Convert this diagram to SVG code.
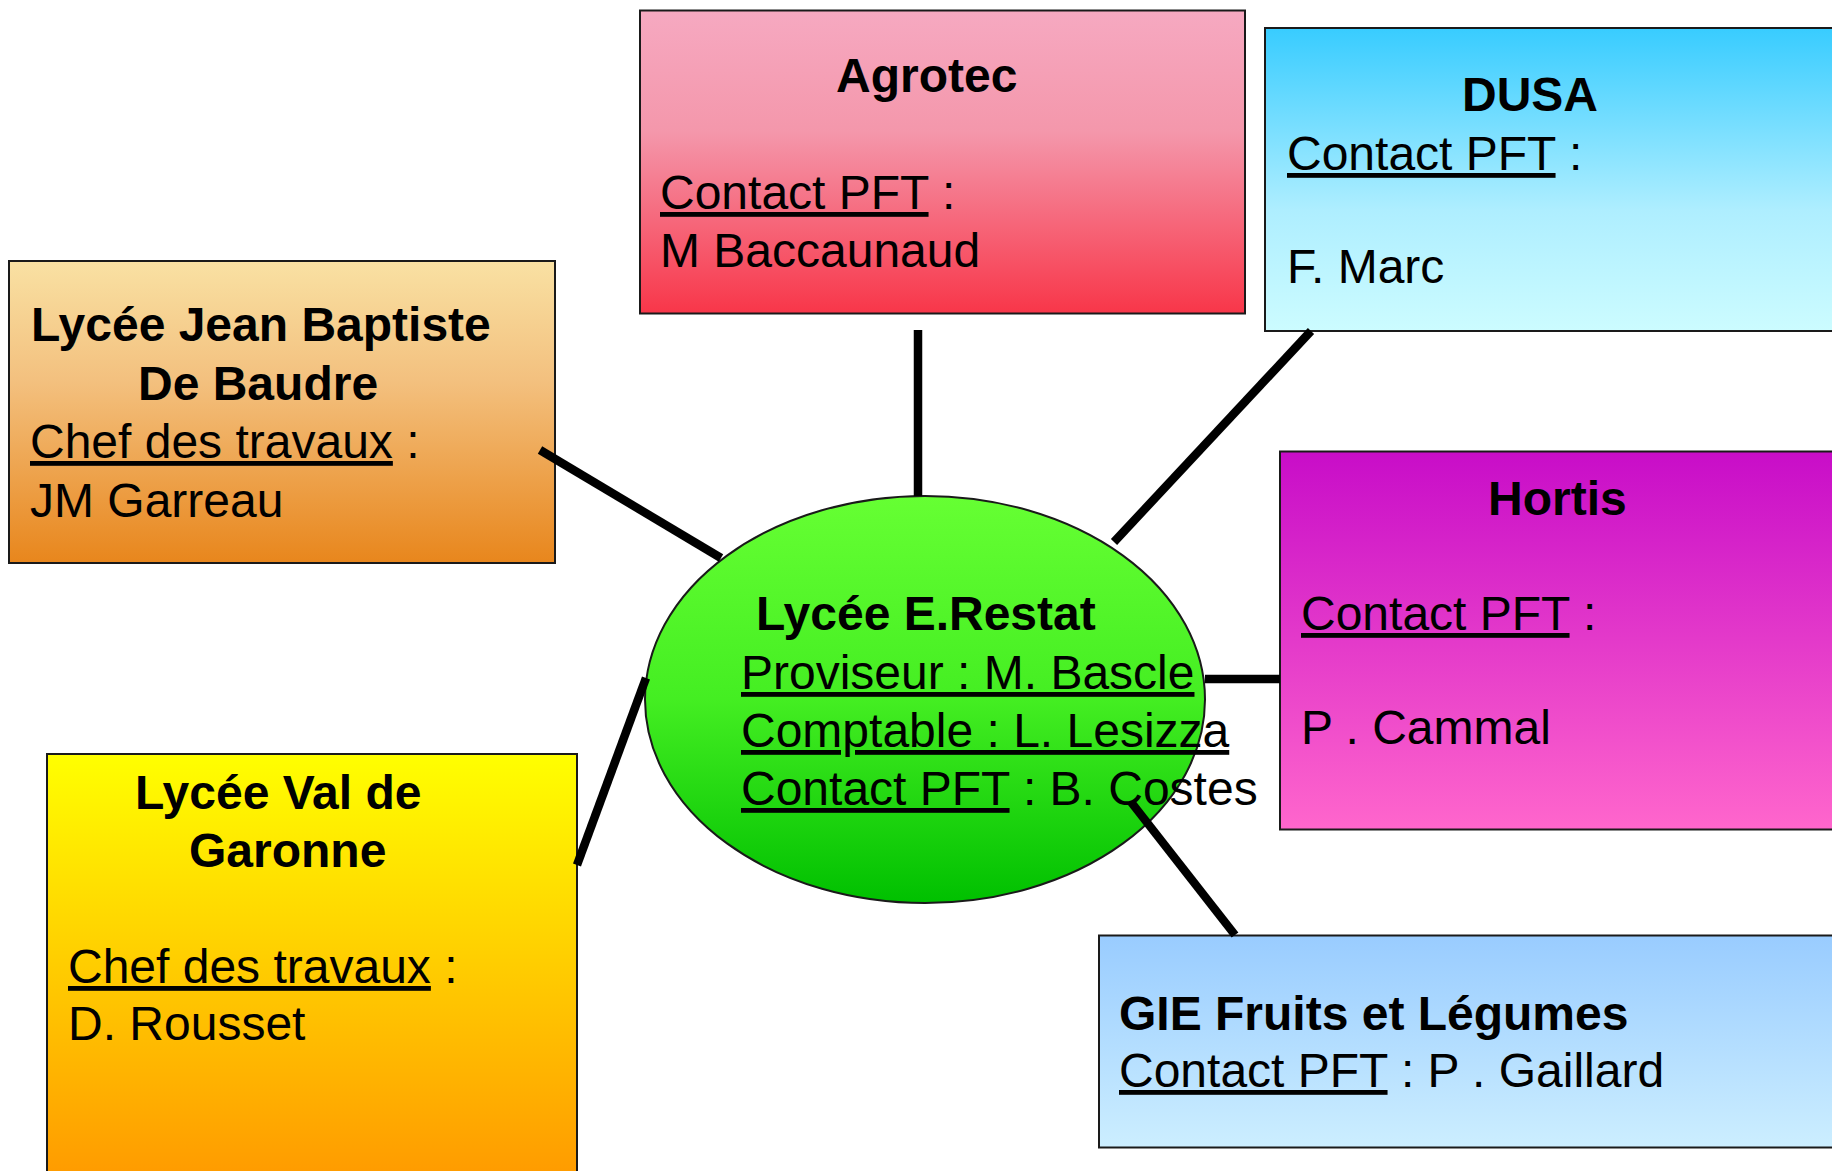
<svg xmlns="http://www.w3.org/2000/svg" width="1832" height="1171" viewBox="0 0 1832 1171">
<defs>
<linearGradient id="gAgro" x1="0" y1="0" x2="0" y2="1"><stop offset="0" stop-color="#F6A9C1"/><stop offset="0.4" stop-color="#F497AB"/><stop offset="1" stop-color="#F83649"/></linearGradient>
<linearGradient id="gDusa" x1="0" y1="0" x2="0" y2="1"><stop offset="0" stop-color="#38CCFF"/><stop offset="0.6" stop-color="#AEEEFF"/><stop offset="1" stop-color="#CCFCFF"/></linearGradient>
<linearGradient id="gJb" x1="0" y1="0" x2="0" y2="1"><stop offset="0" stop-color="#F9E1A3"/><stop offset="0.4" stop-color="#F3C07E"/><stop offset="1" stop-color="#E8861C"/></linearGradient>
<linearGradient id="gHort" x1="0" y1="0" x2="0" y2="1"><stop offset="0" stop-color="#C80DC8"/><stop offset="1" stop-color="#FF66CC"/></linearGradient>
<linearGradient id="gVal" x1="0" y1="0" x2="0" y2="1"><stop offset="0" stop-color="#FFFF00"/><stop offset="1" stop-color="#FF9900"/></linearGradient>
<linearGradient id="gGie" x1="0" y1="0" x2="0" y2="1"><stop offset="0" stop-color="#99CCFF"/><stop offset="1" stop-color="#CCEEFF"/></linearGradient>
<linearGradient id="gEll" x1="0" y1="0" x2="0" y2="1"><stop offset="0" stop-color="#66FF33"/><stop offset="0.5" stop-color="#44EE22"/><stop offset="1" stop-color="#00C000"/></linearGradient>
</defs>
<style>
.box{stroke:#1a1a1a;stroke-width:2}
.t{font-family:"Liberation Sans",Arial,sans-serif;font-size:48px;fill:#000}
.b{font-weight:bold}
.u{text-decoration:underline}
.ln{stroke:#000;stroke-width:8.5;fill:none}
</style>
<rect width="1832" height="1171" fill="#fff"/>

<g id="node-agrotec">
<rect class="box" x="640" y="10.5" width="605" height="303" fill="url(#gAgro)"/>
<text class="t b" x="836" y="92">Agrotec</text>
<text class="t" x="660" y="209"><tspan class="u">Contact PFT</tspan> :</text>
<text class="t" x="660" y="267">M Baccaunaud</text>
</g>

<g id="node-dusa">
<rect class="box" x="1265" y="28" width="580" height="303" fill="url(#gDusa)"/>
<text class="t b" x="1462" y="111">DUSA</text>
<text class="t" x="1287" y="170"><tspan class="u">Contact PFT</tspan> :</text>
<text class="t" x="1287" y="283">F. Marc</text>
</g>

<g id="node-jb">
<rect class="box" x="9" y="261" width="546" height="302" fill="url(#gJb)"/>
<text class="t b" x="31" y="341">Lycée Jean Baptiste</text>
<text class="t b" x="138" y="400">De Baudre</text>
<text class="t" x="30" y="458"><tspan class="u">Chef des travaux</tspan> :</text>
<text class="t" x="30" y="517">JM Garreau</text>
</g>

<g id="node-hortis">
<rect class="box" x="1280" y="451.5" width="565" height="378" fill="url(#gHort)"/>
<text class="t b" x="1488" y="515">Hortis</text>
<text class="t" x="1301" y="630"><tspan class="u">Contact PFT</tspan> :</text>
<text class="t" x="1301" y="744">P . Cammal</text>
</g>

<g id="node-val">
<rect class="box" x="47" y="754" width="530" height="430" fill="url(#gVal)"/>
<text class="t b" x="135" y="809">Lycée Val de</text>
<text class="t b" x="189" y="867">Garonne</text>
<text class="t" x="68" y="983"><tspan class="u">Chef des travaux</tspan> :</text>
<text class="t" x="68" y="1040">D. Rousset</text>
</g>

<g id="node-gie">
<rect class="box" x="1099" y="935.5" width="746" height="212" fill="url(#gGie)"/>
<text class="t b" x="1119" y="1030">GIE Fruits et Légumes</text>
<text class="t" x="1119" y="1087"><tspan class="u">Contact PFT</tspan> : P . Gaillard</text>
</g>

<g id="node-restat">
<ellipse cx="925" cy="699.5" rx="280" ry="203.5" fill="url(#gEll)" stroke="#1a1a1a" stroke-width="2"/>
</g>

<g id="connectors">
<line class="ln" x1="918" y1="330" x2="918" y2="496"/>
<line class="ln" x1="1311" y1="331" x2="1114" y2="542"/>
<line class="ln" x1="540" y1="450" x2="721" y2="558"/>
<line class="ln" x1="577" y1="865" x2="646" y2="678"/>
<line class="ln" x1="1205" y1="679" x2="1280" y2="679"/>
<line class="ln" x1="1131" y1="802" x2="1235" y2="935"/>
</g>

<g id="restat-text">
<text class="t b" x="756" y="630">Lycée E.Restat</text>
<text class="t u" x="741" y="689">Proviseur : M. Bascle</text>
<text class="t u" x="741" y="747">Comptable : L. Lesizza</text>
<text class="t" x="741" y="805"><tspan class="u">Contact PFT</tspan> : B. Costes</text>
</g>
</svg>
